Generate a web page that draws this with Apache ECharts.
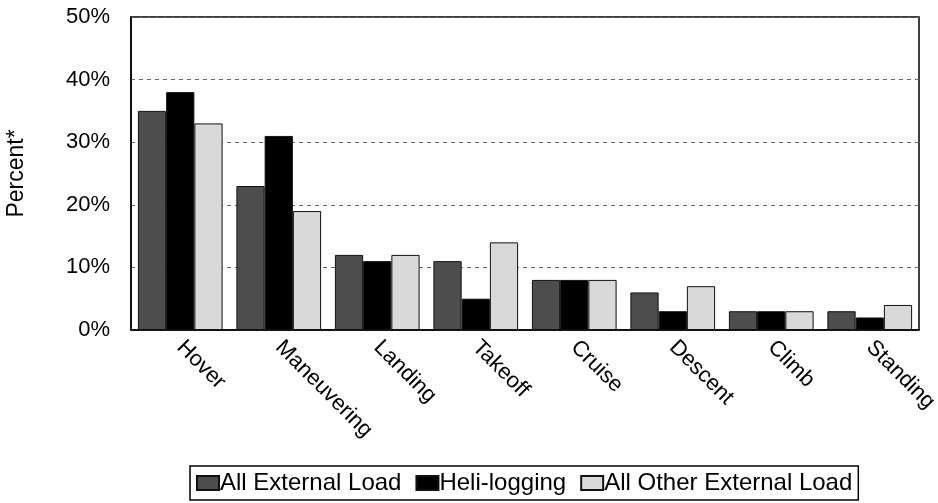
<!DOCTYPE html>
<html><head><meta charset="utf-8">
<script src="https://cdn.jsdelivr.net/npm/echarts@6/dist/echarts.min.js"></script>
<style>html,body{margin:0;padding:0;background:#fff}#c{width:938px;height:503px}</style>
</head><body><div id="c"></div>
<script>
const categories = ["Hover","Maneuvering","Landing","Takeoff","Cruise","Descent","Climb","Standing"];
const allExternal = [35,23,12,11,8,6,3,3];
const heliLogging = [38,31,11,5,8,3,3,2];
const allOther = [33,19,12,14,8,7,3,4];
const seriesNames = ["All External Load","Heli-logging","All Other External Load"];
const yTicks = [0,10,20,30,40,50];

const FONT = "Liberation Sans, Arial, sans-serif";
const chart = echarts.init(document.getElementById('c'));
const mk = (name, data, color) => ({
  name, type: 'bar', data, barGap: '0%', barCategoryGap: '14%',
  itemStyle: { color, borderColor: '#111', borderWidth: 1 }
});
chart.setOption({
  animation: false,
  textStyle: { fontFamily: FONT },
  grid: { left: 131, right: 19, top: 17, bottom: 173, show: true, borderColor: '#000', borderWidth: 1.5,
          containLabel: false, outerBoundsMode: 'none' },
  legend: {
    bottom: 3, left: 190,
    icon: 'rect',
    itemWidth: 22, itemHeight: 14, itemGap: 14,
    borderColor: '#000', borderWidth: 1.5, padding: [5, 6, 5, 6],
    textStyle: { fontSize: 24, color: '#000', fontFamily: FONT, padding: [0,0,0,-4] },
    data: seriesNames
  },
  xAxis: {
    type: 'category', data: categories,
    axisLine: { lineStyle: { color: '#000', width: 1.5 } },
    axisTick: { show: false },
    axisLabel: { rotate: -45, fontSize: 22, color: '#000', margin: 14, interval: 0 }
  },
  yAxis: {
    type: 'value', min: yTicks[0], max: yTicks[yTicks.length-1], interval: 10,
    name: 'Percent*', nameLocation: 'middle', nameGap: 103, nameRotate: 90,
    nameTextStyle: { fontSize: 23, color: '#000' },
    axisLine: { show: true, lineStyle: { color: '#000', width: 1.5 } },
    axisTick: { show: false },
    axisLabel: { fontSize: 22, color: '#000', margin: 21, formatter: v => v + '%' },
    splitLine: { lineStyle: { color: '#666', type: [4, 4], width: 1 } }
  },
  series: [
    mk(seriesNames[0], allExternal, '#4d4d4d'),
    mk(seriesNames[1], heliLogging, '#000000'),
    mk(seriesNames[2], allOther, '#d9d9d9')
  ]
});
</script></body></html>
